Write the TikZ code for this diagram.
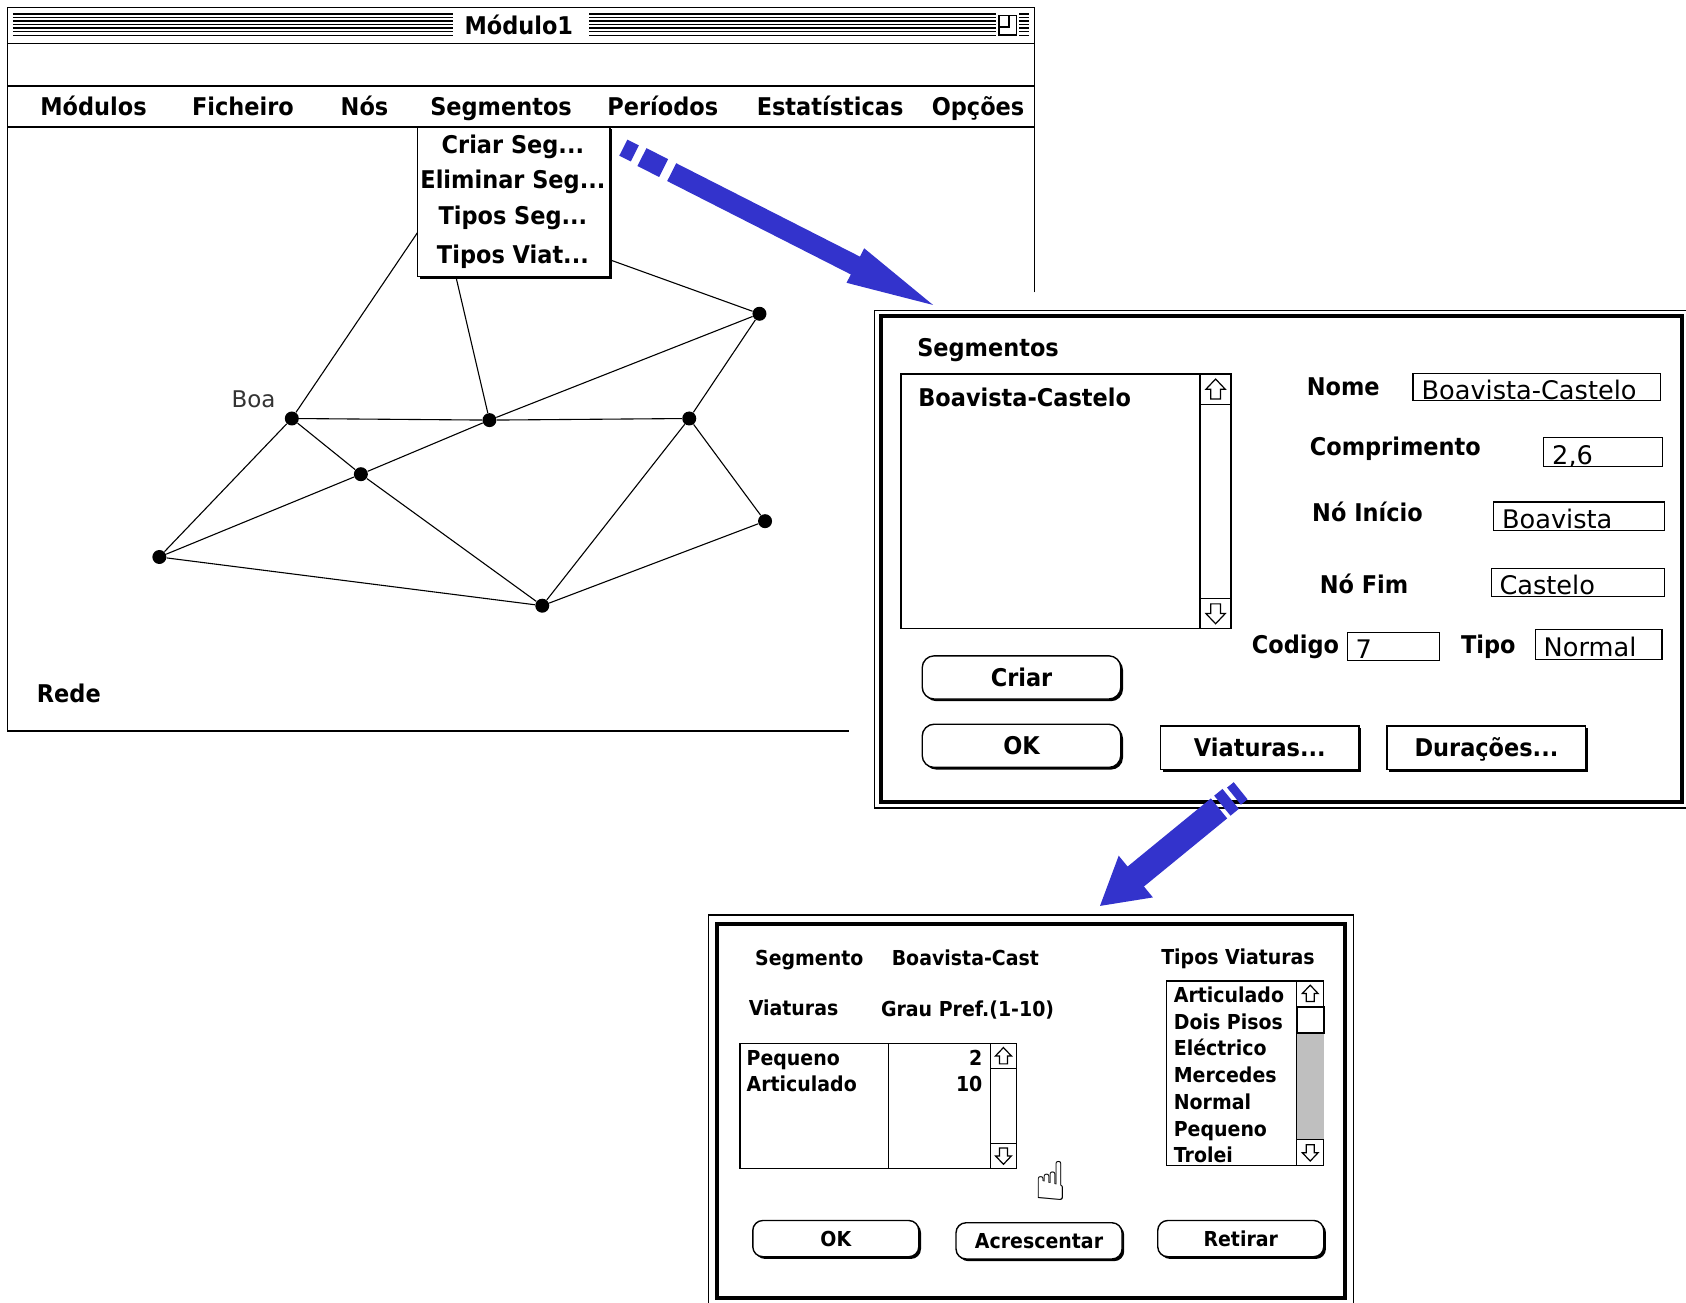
\documentclass[tikz,border=0pt]{standalone}
\usepackage{fontspec}
\setmainfont{DejaVu Sans}
\newfontfamily\chicfam[FakeStretch=0.92]{DejaVu Sans}
\usepackage{tikz}
\usetikzlibrary{shadows}

\newcommand{\chic}{\chicfam\bfseries\fontsize{12.2}{14}\selectfont}
\newcommand{\chicsm}{\chicfam\bfseries\fontsize{10.3}{12}\selectfont}
\newcommand{\genv}{\fontsize{12.8}{15}\selectfont}
\newcommand{\genvsm}{\fontsize{11.5}{14}\selectfont}

\definecolor{arrowblue}{RGB}{51,51,204}

\tikzset{
  lbl/.style={font=\chic, inner sep=0pt, anchor=base west},
  lblsm/.style={font=\chicsm, inner sep=0pt, anchor=base west},
  menuitem/.style={font=\chic, inner sep=0pt, anchor=base},
  fieldtxt/.style={font=\genv, inner sep=0pt, anchor=base west},
  fieldbox/.style={draw, line width=0.6pt},
  net/.style={line width=0.55pt},
  netdot/.style={circle, fill, inner sep=0pt, minimum size=7pt},
  btnshadow/.style={drop shadow={shadow xshift=1.1pt, shadow yshift=-1.1pt, opacity=1, fill=black}},
  rbtn/.style={draw, line width=0.7pt, fill=white, rounded corners=6pt, btnshadow, font=\chic,
    text height=8.9pt, text depth=0pt, inner sep=0pt, minimum width=99.3pt, minimum height=21.6pt},
  sbtn/.style={rbtn, sharp corners},
  rbtnsm/.style={rbtn, rounded corners=5pt, font=\chicsm, text height=7.5pt,
    minimum width=83pt, minimum height=18.1pt},
  bigarrow/.style={draw=arrowblue, line cap=butt},
  scrollarr/.pic={\draw[line width=0.6pt, fill=white] (0,-9.5) -- (9,0) -- (4.5,0) -- (4.5,9)
    -- (-4.5,9) -- (-4.5,0) -- (-9,0) -- cycle;}
}

\begin{document}
\begin{tikzpicture}[x=0.5376pt, y=-0.5376pt]
\useasboundingbox (0,0) rectangle (1568,1211);
\clip (0,0) rectangle (1568,1211);

% main window
\draw[line width=0.8pt] (962,272) -- (962,7) -- (7,7) -- (7,680) -- (790,680);
\draw[line width=0.8pt] (7,40.5) -- (962,40.5);
\draw[line width=0.8pt] (7,80) -- (962,80);
\draw[line width=1.2pt] (7,118) -- (962,118);
% title bar
\foreach \s in {0,...,6}{
  \draw[line width=0.75pt] (12,13+3.3*\s) -- (421,13+3.3*\s);
  \draw[line width=0.75pt] (548,13+3.3*\s) -- (926,13+3.3*\s);
  \draw[line width=0.75pt] (948,13+3.3*\s) -- (957,13+3.3*\s);
}
\node[menuitem] (title) at (482.5,32) {Módulo1};
\draw[line width=0.7pt, fill=white] (929,14.5) rectangle (945.5,32.5);
\draw[line width=0.7pt] (929,25) -- (938.5,25) -- (938.5,14.5);

% menu bar
\node[menuitem] (mModulos) at (87,107) {Módulos};
\node[menuitem] (mFicheiro) at (226,107) {Ficheiro};
\node[menuitem] (mNos) at (339,107) {Nós};
\node[menuitem] (mSegmentos) at (466,107) {Segmentos};
\node[menuitem] (mPeriodos) at (616.4,107) {Períodos};
\node[menuitem] (mEstat) at (772,107) {Estatísticas};
\node[menuitem] (mOpcoes) at (909.6,107) {Opções};

% network
\node[netdot] (nA) at (271.4,389.2) {};
\node[netdot] (nB) at (455.2,390.7) {};
\node[netdot] (nC) at (641,389.2) {};
\node[netdot] (nD) at (706.3,291.8) {};
\node[netdot] (nE) at (335.6,441) {};
\node[netdot] (nF) at (148.2,518) {};
\node[netdot] (nG) at (504.3,563.3) {};
\node[netdot] (nH) at (711.5,484.7) {};
\coordinate (hA) at (388.5,216);
\coordinate (hB) at (424,257.3);
\coordinate (hD) at (567.4,241.7);
\draw[net] (nA) -- (hA) (nB) -- (hB) (nD) -- (hD)
  (nA) -- (nB) (nB) -- (nC) (nB) -- (nD) (nC) -- (nD)
  (nA) -- (nE) (nE) -- (nG) (nF) -- (nE) (nE) -- (nB)
  (nA) -- (nF) (nF) -- (nG) (nG) -- (nC) (nC) -- (nH) (nH) -- (nG);
\node[font=\genvsm, text=black!80, inner sep=0pt, anchor=base west] (boa) at (215,379.2) {Boa};
\node[lbl] (rede) at (34,653) {Rede};

% menu Segmentos
\draw[line width=0.7pt, fill=white, btnshadow] (388.5,118) rectangle (567.4,257.3);
\node[menuitem] (criarseg) at (477,142.6) {Criar Seg...};
\node[menuitem] (elimseg) at (477,175) {Eliminar Seg...};
\node[menuitem] (tiposseg) at (477,209) {Tipos Seg...};
\node[menuitem] (tiposviat) at (477,245) {Tipos Viat...};

% arrow to Segmentos dialog
\coordinate (a1tip) at (867.7,283.6);
\fill[arrowblue] (a1tip) -- (787.3,263) -- (803.7,230.9) -- cycle;
\draw[bigarrow, line width=10pt] (624.7,160.1) -- (796.4,247.4);
\draw[bigarrow, line width=10pt] (617.2,156.3) -- (597.0,146.1);
\draw[bigarrow, line width=9pt] (590.4,142.7) -- (579.7,137.3);

% dialog Segmentos
\draw[line width=0.8pt, fill=white] (813.3,288.7) rectangle (1572,751.4);
\draw[line width=2pt] (819.5,293.8) rectangle (1563.8,745.5);
\node[lbl] (dSeg) at (852.7,332) {Segmentos};
\draw[line width=0.7pt] (838,347.7) rectangle (1145,584.7);
\draw[line width=0.7pt] (1116,347.7) -- (1116,584.7) (1116,376) -- (1145,376) (1116,556.5) -- (1145,556.5);
\pic at (1130.5,362) {scrollarr};
\pic[yscale=-1] at (1130.5,570.6) {scrollarr};
\node[lbl] (segItem) at (853.7,378.2) {Boavista-Castelo};

\node[lbl] (lNome) at (1215,367.8) {Nome};
\draw[fieldbox] (1314,347.7) rectangle (1544.6,372.8);
\node[fieldtxt] (fNome) at (1321.7,371.5) {Boavista-Castelo};
\node[lbl] (lComp) at (1217.8,423.8) {Comprimento};
\draw[fieldbox] (1435.4,407) rectangle (1546.1,434);
\node[fieldtxt] (fComp) at (1443.2,431.6) {2,6};
\node[lbl] (lInicio) at (1220,485) {Nó Início};
\draw[fieldbox] (1388.8,466.8) rectangle (1548,493.6);
\node[fieldtxt] (fInicio) at (1396.6,491.4) {Boavista};
\node[lbl] (lFim) at (1227,552) {Nó Fim};
\draw[fieldbox] (1386.8,528.5) rectangle (1548,554.9);
\node[fieldtxt] (fFim) at (1394.2,552.7) {Castelo};
\node[lbl] (lCodigo) at (1163.9,607.7) {Codigo};
\draw[fieldbox] (1253,587.9) rectangle (1339,614.6);
\node[fieldtxt] (fCodigo) at (1260.4,612.4) {7};
\node[lbl] (lTipo) at (1358.4,607.7) {Tipo};
\draw[fieldbox] (1428,585.7) rectangle (1545.6,613);
\node[fieldtxt] (fTipo) at (1435.3,610.8) {Normal};

\node[rbtn] (bCriar) at (950,630) {Criar};
\node[rbtn] (bOK) at (950,693.6) {OK};
\node[sbtn] (bViaturas) at (1171.6,695.4) {Viaturas...};
\node[sbtn] (bDuracoes) at (1382.4,695.4) {Durações...};

% arrow to Viaturas dialog
\coordinate (a2tip) at (1023,842.5);
\fill[arrowblue] (a2tip) -- (1072.2,834.6) -- (1040.4,795.8) -- cycle;
\draw[bigarrow, line width=12.9pt] (1055.5,815.8) -- (1133.7,751.8);
\draw[bigarrow, line width=12.9pt] (1136.8,749.3) -- (1144.5,743.0);
\draw[bigarrow, line width=11pt] (1147.6,740.4) -- (1153.8,735.4);

% dialog Viaturas
\draw[line width=0.8pt, fill=white] (659,851) rectangle (1258.8,1216);
\draw[line width=2pt] (666.8,859.3) rectangle (1250.6,1207.5);
\node[lblsm] (vSeg) at (701.9,898) {Segmento};
\node[lblsm] (vSegNome) at (829,898) {Boavista-Cast};
\node[lblsm] (vTipos) at (1079.6,896.8) {Tipos Viaturas};
\node[lblsm] (vViat) at (696,944.6) {Viaturas};
\node[lblsm] (vGrau) at (819,944.9) {Grau Pref.(1-10)};

\draw[line width=0.7pt] (688.2,970.3) rectangle (945.3,1086.6);
\draw[line width=0.7pt] (826.3,970.3) -- (826.3,1086.6) (921,970.3) -- (921,1086.6)
  (921,993.6) -- (945.3,993.6) (921,1063.3) -- (945.3,1063.3);
\pic[scale=0.82] at (933.2,982) {scrollarr};
\pic[xscale=0.82, yscale=-0.82] at (933.2,1075) {scrollarr};
\node[lblsm] (vPeq) at (694,990.5) {Pequeno};
\node[lblsm] (vArt) at (694,1015.3) {Articulado};
\node[lblsm, anchor=base east] (gPeq) at (914,990.5) {2};
\node[lblsm, anchor=base east] (gArt) at (914,1015.3) {10};

\draw[line width=0.7pt] (1084.7,912.3) rectangle (1231,1084);
\fill[black!25] (1206,961) rectangle (1231,1060);
\draw[line width=0.7pt] (1206,912.3) -- (1206,1084) (1206,1060) -- (1231,1060);
\draw[line width=1.1pt, fill=white] (1206,936.2) rectangle (1231,961);
\pic[scale=0.82] at (1218.5,924) {scrollarr};
\pic[xscale=0.82, yscale=-0.82] at (1218.5,1072) {scrollarr};
\node[lblsm] (tArt) at (1091.3,932.5) {Articulado};
\node[lblsm] (tDois) at (1091.3,957.3) {Dois Pisos};
\node[lblsm] (tElec) at (1091.3,982) {Eléctrico};
\node[lblsm] (tMerc) at (1091.3,1006.9) {Mercedes};
\node[lblsm] (tNorm) at (1091.3,1031.7) {Normal};
\node[lblsm] (tPeq) at (1091.3,1056.5) {Pequeno};
\node[lblsm] (tTrol) at (1091.3,1081.3) {Trolei};

\node[font=\fontsize{27}{27}\selectfont, inner sep=0pt] (hand) at (977,1098) {☝};

\node[rbtnsm] (vOK) at (777.3,1151.9) {OK};
\node[rbtnsm] (vAcresc) at (966.3,1154) {Acrescentar};
\node[rbtnsm] (vRetirar) at (1153.9,1151.9) {Retirar};

\end{tikzpicture}
\end{document}
